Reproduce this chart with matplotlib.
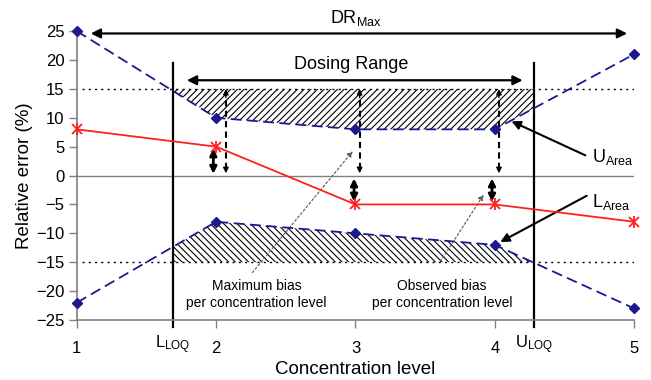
import numpy as np
import matplotlib
matplotlib.use("Agg")
import matplotlib.pyplot as plt

plt.rcParams["font.family"] = ["Liberation Sans", "DejaVu Sans"]
plt.rcParams["mathtext.fontset"] = "custom"
plt.rcParams["mathtext.rm"] = "Liberation Sans"
plt.rcParams["mathtext.default"] = "regular"
plt.rcParams["hatch.linewidth"] = 0.8

# chart values
conc = [1, 2, 3, 4, 5]
upper_limit = [25, 10, 8, 8, 21]
lower_limit = [-22, -8, -10, -12, -23]
observed_bias = [8, 5, -5, -5, -8]
acceptance = 15
lloq = 1.69
uloq = 4.28
y_ticks = [-25, -20, -15, -10, -5, 0, 5, 10, 15, 20, 25]

NAVY = "#1a1a8c"
RED = "#ff2020"
GREY = "#808080"

fig = plt.figure(figsize=(6.51, 3.80), dpi=100)
ax = fig.add_axes([0.118, 0.158, 0.856, 0.760])

# hatched areas between the acceptance limits and the limit curves
xs = np.linspace(1, 5, 2001)
up = np.interp(xs, conc, upper_limit)
lo = np.interp(xs, conc, lower_limit)
m_up = (xs >= lloq - 0.03) & (xs <= uloq) & (up <= acceptance)
m_lo = (xs >= lloq) & (xs <= uloq) & (lo >= -acceptance)
ax.fill_between(xs, up, acceptance, where=m_up, facecolor="none",
                edgecolor="black", hatch="/////", linewidth=0)
ax.fill_between(xs, lo, -acceptance, where=m_lo, facecolor="none",
                edgecolor="black", hatch="\\\\\\\\\\", linewidth=0)

ax.axhline(0, color=GREY, linewidth=1.0)
ax.plot([1.04, 5], [acceptance, acceptance], color="black", linestyle=(0, (1.5, 3)), linewidth=1.0)
ax.plot([1.04, 5], [-acceptance, -acceptance], color="black", linestyle=(0, (1.5, 3)), linewidth=1.0)

ax.plot(conc, upper_limit, color=NAVY, linestyle=(0, (6, 3)), linewidth=1.3, clip_on=False,
        marker="D", markersize=5, markerfacecolor=NAVY, markeredgecolor=NAVY, zorder=4)
ax.plot(conc, lower_limit, color=NAVY, linestyle=(0, (6, 3)), linewidth=1.3, clip_on=False,
        marker="D", markersize=5, markerfacecolor=NAVY, markeredgecolor=NAVY, zorder=4)
ax.plot(conc, observed_bias, color=RED, linewidth=1.3, clip_on=False,
        marker="x", markersize=7, markeredgewidth=1.3, markeredgecolor=RED, zorder=4)
ax.plot(conc, observed_bias, linestyle="none", clip_on=False,
        marker="|", markersize=9, markeredgewidth=1.3, markeredgecolor=RED, zorder=4)

# LLOQ / ULOQ vertical lines
for xv in (lloq, uloq):
    ax.plot([xv, xv], [-26.3, 19.5], color="black", linewidth=1.6, clip_on=False)

# DR max and dosing range arrows
ax.annotate("", xy=(1.1, 24.6), xytext=(4.95, 24.6), annotation_clip=False,
            arrowprops=dict(arrowstyle="<|-|>", color="black", lw=1.6,
                            mutation_scale=14, shrinkA=0, shrinkB=0))
ax.text(3.0, 27.3, r"DR$_{\mathrm{Max}}$", ha="center", va="center", fontsize=13, clip_on=False)
ax.annotate("", xy=(1.79, 16.5), xytext=(4.2, 16.5),
            arrowprops=dict(arrowstyle="<|-|>", color="black", lw=1.6,
                            mutation_scale=14, shrinkA=0, shrinkB=0))
ax.text(2.97, 19.2, "Dosing Range", ha="center", va="center", fontsize=13)

# maximum bias (dashed) and observed bias (solid) double arrows
for xv in (2.07, 3.03, 4.03):
    ax.plot([xv, xv], [1.2, 14.2], color="black", linestyle=(0, (3, 2)), linewidth=1.5)
    ax.annotate("", xy=(xv, 15), xytext=(xv, 13.5),
                arrowprops=dict(arrowstyle="-|>", color="black", lw=1.0,
                                mutation_scale=8, shrinkA=0, shrinkB=0))
    ax.annotate("", xy=(xv, 0.4), xytext=(xv, 1.9),
                arrowprops=dict(arrowstyle="-|>", color="black", lw=1.0,
                                mutation_scale=8, shrinkA=0, shrinkB=0))
for xv, y0, y1 in ((1.98, 0.3, 4.7), (2.99, -0.5, -4.5), (3.98, -0.5, -4.5)):
    ax.annotate("", xy=(xv, y0), xytext=(xv, y1),
                arrowprops=dict(arrowstyle="<|-|>", color="black", lw=2.0,
                                mutation_scale=10, shrinkA=0, shrinkB=0))

# text callouts
ax.text(2.29, -20.6, "Maximum bias\nper concentration level", ha="center", va="center",
        fontsize=10, linespacing=1.25)
ax.annotate("", xy=(2.98, 4.2), xytext=(2.26, -16.8),
            arrowprops=dict(arrowstyle="-|>", color="#555555", lw=0.8, linestyle=(0, (2, 2)),
                            mutation_scale=8, shrinkA=0, shrinkB=0))
ax.text(3.62, -20.6, "Observed bias\nper concentration level", ha="center", va="center",
        fontsize=10, linespacing=1.25)
ax.annotate("", xy=(3.92, -3.3), xytext=(3.61, -14.9),
            arrowprops=dict(arrowstyle="-|>", color="#555555", lw=0.8, linestyle=(0, (2, 2)),
                            mutation_scale=8, shrinkA=0, shrinkB=0))

ax.text(4.7, 3.2, r"U$_{\mathrm{Area}}$", ha="left", va="center", fontsize=13)
ax.annotate("", xy=(4.12, 9.4), xytext=(4.65, 3.5),
            arrowprops=dict(arrowstyle="-|>", color="black", lw=1.5,
                            mutation_scale=13, shrinkA=0, shrinkB=0))
ax.text(4.7, -4.5, r"L$_{\mathrm{Area}}$", ha="left", va="center", fontsize=13)
ax.annotate("", xy=(4.04, -11.5), xytext=(4.66, -3.5),
            arrowprops=dict(arrowstyle="-|>", color="black", lw=1.5,
                            mutation_scale=13, shrinkA=0, shrinkB=0))

# axes
ax.set_xlim(1, 5)
ax.set_ylim(-25, 25)
ax.set_xticks(conc)
ax.set_xticklabels([str(c) for c in conc])
ax.set_yticks(y_ticks)
ax.tick_params(axis="x", direction="out", length=6, width=1, color=GREY, pad=9, labelsize=12)
ax.tick_params(axis="y", direction="out", length=6, width=1, color=GREY, pad=3, labelsize=12)
for side in ("top", "right"):
    ax.spines[side].set_visible(False)
for side in ("left", "bottom"):
    ax.spines[side].set_color(GREY)
    ax.spines[side].set_linewidth(1.2)

for xv, lab in ((lloq, "L"), (uloq, "U")):
    ax.text(xv, -29.3, lab + r"$_{\mathrm{LOQ}}$", ha="center", va="center", fontsize=12, clip_on=False)

ax.set_xlabel("Concentration level", fontsize=13.5, labelpad=4)
ax.set_ylabel("Relative error (%)", fontsize=13.5, labelpad=2)

fig.savefig("out.png", dpi=100)
